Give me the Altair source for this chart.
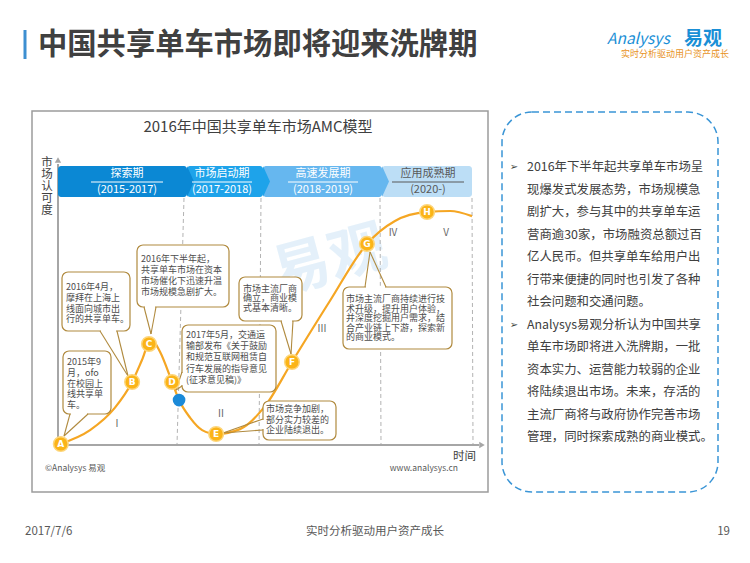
import altair as alt
import pandas as pd

# ------------------------------------------------------------------ data
page_title = "中国共享单车市场即将迎来洗牌期"
chart_title = "2016年中国共享单车市场AMC模型"
phase_names = ["探索期", "市场启动期", "高速发展期", "应用成熟期"]
phase_years = ["(2015-2017)", "(2017-2018)", "(2018-2019)", "(2020-)"]
stage_numerals = ["I", "II", "III", "IV", "V"]

curve_time = [0, 7.3, 13.3, 17.5, 19.9, 22.1, 24.3, 27.2, 28.9, 31.6, 34.5,
              37.9, 43.7, 49.8, 56.3, 65.5, 74.5, 81.3, 89.1, 94.7, 100]
curve_recognition = [0, 5.7, 14.8, 25.4, 34.4, 43.0, 37.7, 25.4, 18.0, 10.7, 5.7,
                     4.1, 6.1, 15.6, 33.6, 58.6, 82.0, 91.4, 95.1, 95.5, 93.4]

milestone_labels = ["A", "B", "C", "D", "E", "F", "G", "H"]
milestone_time = [0.2, 17.5, 21.6, 27.2, 37.9, 56.3, 74.5, 89.1]
milestone_recognition = [0, 25.4, 41.0, 25.4, 4.1, 33.6, 82.0, 95.1]
policy_time = [28.9]
policy_recognition = [18.0]

notes = [
    ["2015年9", "月，ofo", "在校园上", "线共享单", "车。"],
    ["2016年4月，", "摩拜在上海上", "线面向城市出", "行的共享单车。"],
    ["2016年下半年起，", "共享单车市场在资本", "市场催化下迅速升温", "市场规模急剧扩大。"],
    ["2017年5月，交通运", "输部发布《关于鼓励", "和规范互联网租赁自", "行车发展的指导意见", "(征求意见稿)》"],
    ["市场主流厂商", "确立，商业模", "式基本清晰。"],
    ["市场竞争加剧，", "部分实力较差的", "企业陆续退出。"],
    ["市场主流厂商持续进行技", "术升级，提升用户体验，", "并深度挖掘用户需求，结", "合产业链上下游，探索新", "的商业模式。"],
]

side_lines = [
    "2016年下半年起共享单车市场呈", "现爆发式发展态势，市场规模急", "剧扩大，参与其中的共享单车运",
    "营商逾30家，市场融资总额过百", "亿人民币。但共享单车给用户出", "行带来便捷的同时也引发了各种",
    "社会问题和交通问题。",
    "Analysys易观分析认为中国共享", "单车市场即将进入洗牌期，一批", "资本实力、运营能力较弱的企业",
    "将陆续退出市场。未来，存活的", "主流厂商将与政府协作完善市场", "管理，同时探索成熟的商业模式。",
]
side_bullet_rows = [0, 7]
y_label_chars = ["市", "场", "认", "可", "度"]

footer_left = "2017/7/6"
footer_mid = "实时分析驱动用户资产成长"
footer_right = "19"

# ------------------------------------------------------------------ layout (page pixels)
FONT = "Noto Sans CJK SC"
phase_x = [58, 187, 263, 382, 472]
phase_colors = ["#0b88d4", "#1ea3ea", "#66b7ef", "#bcdef6"]
phase_text_colors = ["white", "white", "white", "#595959"]
phase_centers = [127, 222, 323, 428]
phase_uline_half = [36, 30, 35, 36]
divider_top_x = [184, 261, 380, 472]
divider_bot_x = [177, 259, 381, 473]
numeral_x = [117, 221, 322, 393, 446]
numeral_y = [424, 414, 329, 233, 233]

note_boxes = [  # x1, x2, y1, y2, text x, first line y, line height, font size
    (63, 111, 351, 414, 67, 362, 10.8, 9),
    (62, 130, 272, 331, 66, 287, 10.8, 9),
    (137, 229, 245, 307, 141, 259, 11.0, 9),
    (182, 276, 325, 392, 186, 335, 11.2, 9),
    (239, 302, 277, 321, 243, 289, 9.4, 9),
    (263, 336, 401, 440, 266, 409, 10.5, 9),
    (343, 452, 287, 349, 346, 299, 9.6, 9),
]
pointers = [  # base1 x,y ; base2 x,y ; tip x,y
    (70, 414, 88, 414, 64, 436),
    (100, 331, 117, 331, 128, 376),
    (144, 307, 156, 307, 151, 334),
    (182, 372, 182, 386, 176, 390),
    (281, 321, 293, 321, 291, 354),
    (263, 419, 263, 430, 223, 433),
    (365, 287, 386, 287, 370, 252),
]

PX = alt.Scale(domain=[8, 742], range=[0, 734], nice=False, zero=False)
PY = alt.Scale(domain=[8, 555], range=[0, 547], nice=False, zero=False)
TX = alt.Scale(domain=[0, 100], range=[52, 464], nice=False, zero=False)
TY = alt.Scale(domain=[0, 100], range=[436, 192], nice=False, zero=False)


def X():
    return alt.X("x:Q", scale=PX, axis=None)


def Y():
    return alt.Y("y:Q", scale=PY, axis=None)


def texts(rows, **kw):
    df = pd.DataFrame(rows, columns=["x", "y", "text"])
    return alt.Chart(df).mark_text(font=FONT, **kw).encode(x=X(), y=Y(), text="text:N")


def block(x, y_first, lines, lh, **kw):
    """One multi-line text item; y_first is the centre of the first line."""
    df = pd.DataFrame({"x": [x], "y": [y_first], "text": [list(lines)]})
    return alt.Chart(df).mark_text(font=FONT, lineHeight=lh, baseline="middle", **kw).encode(
        x=X(), y=Y(), text="text:N")


def rules(rows, **kw):
    df = pd.DataFrame(rows, columns=["x", "y", "x2", "y2"])
    return alt.Chart(df).mark_rule(**kw).encode(x=X(), y=Y(), x2="x2:Q", y2="y2:Q")


def rects(rows, **kw):
    df = pd.DataFrame(rows, columns=["x", "x2", "y", "y2"])
    return alt.Chart(df).mark_rect(**kw).encode(x=X(), x2="x2:Q", y=Y(), y2="y2:Q")


layers = []

# header
layers.append(rules([(25, 30, 25, 59)], color="#3d8fd1", strokeWidth=3))
layers.append(texts([(38, 45, page_title)], fontSize=29.3, fontWeight="bold",
                    color="#404040", align="left", baseline="middle"))
layers.append(texts([(607, 39, "Analysys")], fontSize=15.5, fontStyle="italic",
                    color="#1a8fd6", align="left", baseline="middle"))
layers.append(texts([(684, 39, "易观")], fontSize=19, fontWeight="bold",
                    color="#1a8fd6", align="left", baseline="middle"))
layers.append(texts([(729, 54, "实时分析驱动用户资产成长")], fontSize=9,
                    color="#e8931e", align="right", baseline="middle"))

# left panel frame + title
layers.append(rects([(32, 488, 111, 492)], fill="white", fillOpacity=0,
                    stroke="#9c9c9c", strokeWidth=1.5))
layers.append(texts([(258, 127, chart_title)], fontSize=15, color="#404040",
                    align="center", baseline="middle"))

# watermark
layers.append(texts([(330, 262, "易观")], fontSize=58, fontWeight="bold", angle=345,
                    color="#d9ebf8", opacity=0.7, align="center", baseline="middle"))

# dividers
div_rows = [(divider_top_x[i], 198, divider_bot_x[i], 445) for i in range(4)]
layers.append(rules(div_rows, color="#b3b3b3", strokeWidth=1, strokeDash=[4, 3]))

# axes
layers.append(rules([(58, 164, 58, 445), (58, 445, 479, 445)], color="#a6a6a6", strokeWidth=2))
arrow_df = pd.DataFrame({"x": [58, 482], "y": [160, 445], "s": ["triangle-up", "triangle-right"]})
layers.append(alt.Chart(arrow_df).mark_point(filled=True, color="#a6a6a6", size=40, opacity=1).encode(
    x=X(), y=Y(), shape=alt.Shape("s:N", scale=None)))
layers.append(block(47, 163, y_label_chars, 12, fontSize=11.5, color="#404040", align="center"))
layers.append(texts([(476, 457, "时间")], fontSize=11.5, color="#404040",
                    align="right", baseline="middle"))
layers.append(texts([(45, 468, "©Analysys 易观")], fontSize=8.5, color="#595959",
                    align="left", baseline="middle"))
layers.append(texts([(458, 468, "www.analysys.cn")], fontSize=8.5, color="#595959",
                    align="right", baseline="middle"))

# phase banner
ban_df = pd.DataFrame({"x": phase_x[:-1], "x2": phase_x[1:], "y": [166] * 4, "y2": [197] * 4,
                       "c": phase_colors})
layers.append(alt.Chart(ban_df).mark_rect(cornerRadius=3).encode(
    x=X(), x2="x2:Q", y=Y(), y2="y2:Q", color=alt.Color("c:N", scale=None)))
chev_df = pd.DataFrame({"x": phase_x[1:4], "y": [181.5] * 3, "c": phase_colors[:3]})
layers.append(alt.Chart(chev_df).mark_point(filled=True, opacity=1, size=31 * 31,
                                            shape="M0,-1L0.45,0L0,1Z", strokeWidth=0).encode(
    x=X(), y=Y(), color=alt.Color("c:N", scale=None)))
ptxt = pd.DataFrame({"x": phase_centers * 2, "y": [174] * 4 + [189.5] * 4,
                     "text": phase_names + phase_years, "c": phase_text_colors * 2})
layers.append(alt.Chart(ptxt).mark_text(font=FONT, fontSize=11, align="center", baseline="middle").encode(
    x=X(), y=Y(), text="text:N", color=alt.Color("c:N", scale=None)))
ul_df = pd.DataFrame({"x": [c - h for c, h in zip(phase_centers, phase_uline_half)],
                      "x2": [c + h for c, h in zip(phase_centers, phase_uline_half)],
                      "y": [182] * 4, "y2": [182] * 4, "c": phase_text_colors})
layers.append(alt.Chart(ul_df).mark_rule(strokeWidth=1).encode(
    x=X(), x2="x2:Q", y=Y(), y2="y2:Q", color=alt.Color("c:N", scale=None)))

# numerals
layers.append(texts(list(zip(numeral_x, numeral_y, stage_numerals)), fontSize=10,
                    color="#666666", align="center", baseline="middle"))

# curve
curve_df = pd.DataFrame({"t": curve_time, "r": curve_recognition})
layers.append(alt.Chart(curve_df).mark_line(color="#f5a623", strokeWidth=2.2, interpolate="monotone").encode(
    x=alt.X("t:Q", scale=TX, axis=None), y=alt.Y("r:Q", scale=TY, axis=None)))

# annotation boxes
layers.append(rects([(b[0], b[1], b[2], b[3]) for b in note_boxes], fill="white",
                    stroke="#b08a3e", strokeWidth=1.2, cornerRadius=6))
gap_rows = []
edge_rows = []
for p in pointers:
    bx1, by1, bx2, by2, tx, ty = p
    if by1 == by2:
        gap_rows.append((bx1 + 1, by1, bx2 - 1, by2))
    else:
        gap_rows.append((bx1, by1 + 1, bx2, by2 - 1))
    edge_rows.append((bx1, by1, tx, ty))
    edge_rows.append((bx2, by2, tx, ty))
layers.append(rules(gap_rows, color="white", strokeWidth=2.5))
layers.append(rules(edge_rows, color="#b08a3e", strokeWidth=1.1))
for box, lines in zip(note_boxes, notes):
    layers.append(block(box[4], box[5], lines, box[6], fontSize=box[7], color="#4d4d4d", align="left"))

# milestones
ms_df = pd.DataFrame({"t": milestone_time, "r": milestone_recognition, "lab": milestone_labels})
layers.append(alt.Chart(ms_df).mark_circle(size=215, color="#fbb417", opacity=1,
                                           stroke="#fdd67c", strokeWidth=1.5).encode(
    x=alt.X("t:Q", scale=TX, axis=None), y=alt.Y("r:Q", scale=TY, axis=None)))
layers.append(alt.Chart(ms_df).mark_text(font="DejaVu Sans", fontSize=9, fontWeight="bold", color="white",
                                         align="center", baseline="middle").encode(
    x=alt.X("t:Q", scale=TX, axis=None), y=alt.Y("r:Q", scale=TY, axis=None), text="lab:N"))
pol_df = pd.DataFrame({"t": policy_time, "r": policy_recognition})
layers.append(alt.Chart(pol_df).mark_circle(size=160, color="#1b8ad8", opacity=1).encode(
    x=alt.X("t:Q", scale=TX, axis=None), y=alt.Y("r:Q", scale=TY, axis=None)))

# right panel
layers.append(rects([(502, 718, 112, 492)], fill="white", fillOpacity=0, stroke="#3a95d6",
                    strokeWidth=1.5, strokeDash=[7, 4], cornerRadius=30))
layers.append(block(527, 167, side_lines, 22.5, fontSize=12.4, color="#404040", align="left"))
bul_df = pd.DataFrame({"x": [514] * len(side_bullet_rows),
                       "y": [167 + 22.5 * r for r in side_bullet_rows],
                       "text": ["➢"] * len(side_bullet_rows)})
layers.append(alt.Chart(bul_df).mark_text(font="DejaVu Sans", fontSize=10, color="#404040",
                                          align="center", baseline="middle").encode(
    x=X(), y=Y(), text="text:N"))

# footer
layers.append(texts([(25, 532, footer_left)], fontSize=11.5, color="#595959", align="left", baseline="middle"))
layers.append(texts([(375, 532, footer_mid)], fontSize=11.5, color="#595959", align="center", baseline="middle"))
layers.append(texts([(730, 532, footer_right)], fontSize=11.5, color="#595959", align="right", baseline="middle"))

chart = alt.layer(*layers).resolve_scale(x="independent", y="independent").properties(
    width=734, height=547, padding=0, autosize=alt.AutoSizeParams(type="none")
).configure_view(stroke=None)

chart.save("out.html", embed_options={"renderer": "svg", "actions": False})
